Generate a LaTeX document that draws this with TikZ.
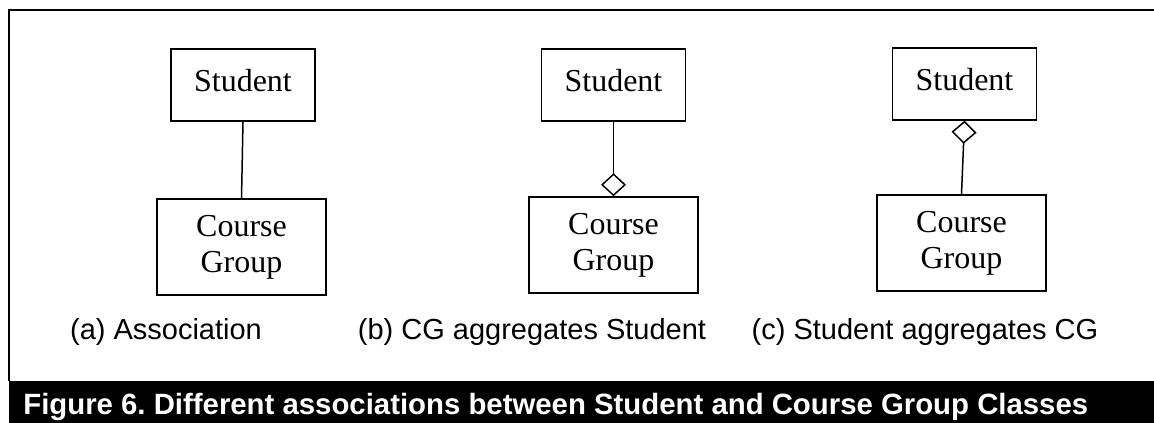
\documentclass[tikz,border=0pt]{standalone}
\usepackage{fontspec}
\setmainfont{Liberation Serif}
\setsansfont{Liberation Sans}
\usetikzlibrary{arrows.meta, positioning}
\frenchspacing

\tikzset{
  classbox/.style={draw, line width=0.85pt, inner sep=0pt, font=\fontsize{18.2}{20.5}\selectfont},
  studentbox/.style={classbox, minimum width=2.88cm, minimum height=1.44cm, text height=12.7pt, text depth=5.5pt},
  groupbox/.style={classbox, minimum width=3.38cm, minimum height=1.92cm, align=center},
  sublabel/.style={font=\sffamily\fontsize{16.5}{19}\selectfont, anchor=base},
  link/.style={line width=0.85pt}
}

\begin{document}
\begin{tikzpicture}
    \useasboundingbox (0,0) rectangle (23.08,8.46);

    % Frame and caption bar
    \draw[line width=1.2pt] (0.18,0.84) -- (0.18,8.26) -- (23.08,8.26);
    \fill[black] (0.18,0) rectangle (23.08,0.84);
    \node[anchor=base west, inner sep=0pt, text=white, font=\sffamily\bfseries\fontsize{16.7}{19}\selectfont] (caption) at (0.46,0.16)
        {Figure 6. Different associations between Student and Course Group Classes};

    % (a) Association
    \node[studentbox] (sa) at (4.86,6.76) {Student};
    \node[groupbox] (ca) at (4.83,3.52) {Course\\Group};
    \draw[link] (sa.south) -- (ca.north);
    \node[sublabel] (la) at (3.32,1.66) {(a) Association};

    % (b) CG aggregates Student
    \node[studentbox] (sb) at (12.27,6.76) {Student};
    \node[groupbox] (cb) at (12.27,3.56) {Course\\Group};
    \draw[link, -{Diamond[open, length=0.46cm, width=0.5cm]}] (sb.south) -- (cb.north);
    \node[sublabel] (lb) at (10.64,1.66) {(b) CG aggregates Student};

    % (c) Student aggregates CG
    \node[studentbox] (sc) at (19.29,6.78) {Student};
    \node[groupbox] (cc) at (19.23,3.60) {Course\\Group};
    \draw[link, {Diamond[open, length=0.46cm, width=0.5cm]}-] (sc.south) -- (cc.north);
    \node[sublabel] (lc) at (18.50,1.66) {(c) Student aggregates CG};
\end{tikzpicture}
\end{document}
